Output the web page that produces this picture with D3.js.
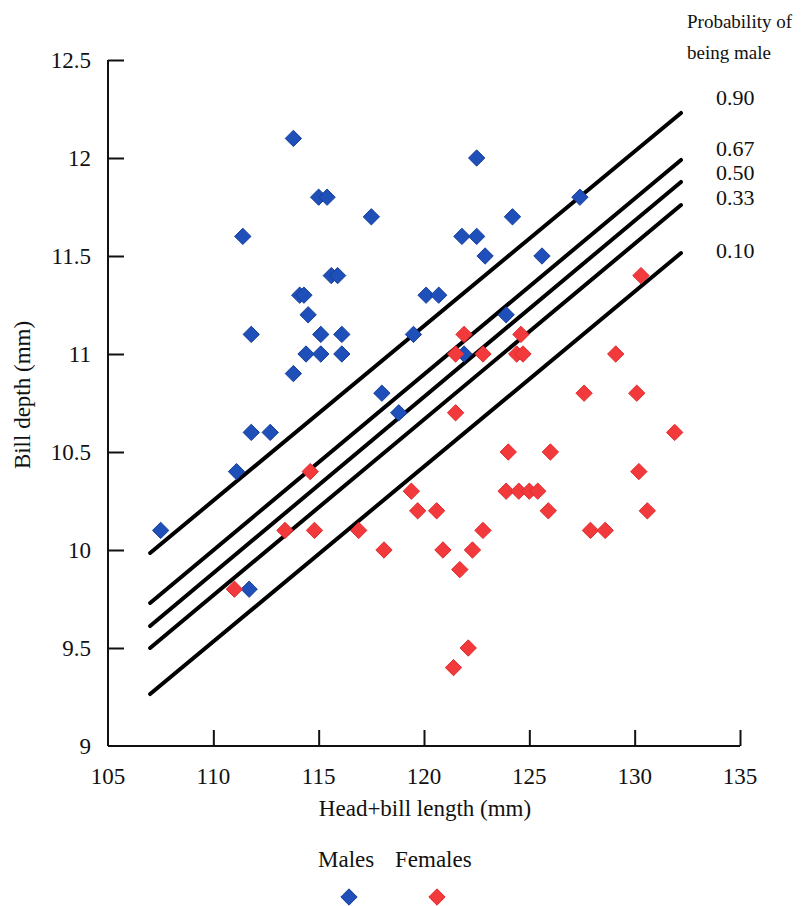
<!DOCTYPE html>
<html><head><meta charset="utf-8">
<script src="https://cdn.jsdelivr.net/npm/d3@7"></script>
<style>body{margin:0;background:#fff}svg{display:block}
svg text{font-family:'Liberation Serif','Tinos','Times New Roman','Nimbus Roman','Nimbus Roman No9 L','DejaVu Serif','Noto Serif',Times,serif !important;}</style>
</head><body>
<script>
const maleX = [107.5,111.1,111.4,111.8,111.8,111.7,112.7,113.8,113.8,114.1,114.3,114.5,114.4,115.1,115.1,115.0,115.4,115.6,115.9,116.1,116.1,117.5,118.0,118.8,119.5,120.1,120.7,121.8,122.5,121.9,122.5,122.9,123.9,124.2,125.6,127.4];
const maleY = [10.1,10.4,11.6,11.1,10.6,9.8,10.6,12.1,10.9,11.3,11.3,11.2,11.0,11.0,11.1,11.8,11.8,11.4,11.4,11.1,11.0,11.7,10.8,10.7,11.1,11.3,11.3,11.6,11.6,11.0,12.0,11.5,11.2,11.7,11.5,11.8];
const femaleX = [111.0,113.4,114.6,114.8,116.9,118.1,119.4,119.7,120.6,120.9,121.4,121.5,121.5,121.7,121.9,122.1,122.3,122.8,122.8,123.9,124.0,124.4,124.5,124.6,124.7,125.0,125.4,125.9,126.0,127.6,127.9,128.6,129.1,130.1,130.2,130.3,130.6,131.9];
const femaleY = [9.8,10.1,10.4,10.1,10.1,10.0,10.3,10.2,10.2,10.0,9.4,11.0,10.7,9.9,11.1,9.5,10.0,11.0,10.1,10.3,10.5,11.0,10.3,11.1,11.0,10.3,10.3,10.2,10.5,10.8,10.1,10.1,11.0,10.8,10.4,11.4,10.2,10.6];
const probLabels = ["0.90","0.67","0.50","0.33","0.10"];
const lineX = [107, 132.2];
const lineStartY = [9.985, 9.73, 9.612, 9.50, 9.265];
const lineEndY = [12.23, 11.99, 11.878, 11.76, 11.515];
const labelY = [12.31, 12.05, 11.93, 11.80, 11.53];
const xTicks = [105,110,115,120,125,130,135];
const yTicks = [9,9.5,10,10.5,11,11.5,12,12.5];
const seriesNames = ["Males","Females"];
const colors = {male:"#1f4fb8", maleStroke:"#163f9c", female:"#f23a3c", femaleStroke:"#e02a2e"};

const W=808,H=906;
const svg=d3.select("body").append("svg").attr("width",W).attr("height",H).attr("fill","#111");
const x=d3.scaleLinear().domain([105,135]).range([108,740]);
const y=d3.scaleLinear().domain([9,12.5]).range([746,60]);

// axes
const xa=svg.append("g").attr("transform","translate(0,"+y(9)+")")
  .call(d3.axisTop(x).tickValues(xTicks).tickSize(16).tickFormat(""));
const ya=svg.append("g").attr("transform","translate("+x(105)+",0)")
  .call(d3.axisRight(y).tickValues(yTicks).tickSize(16).tickFormat(""));
[xa,ya].forEach(a=>{a.selectAll("path,line").attr("stroke","#111").attr("stroke-width",2);});
xa.select(".domain").attr("d","M"+x(105)+",0H"+x(135));
ya.select(".domain").attr("d","M0,"+y(9)+"V"+y(12.5));
xa.selectAll(".tick").filter(d=>d===105).remove();
ya.selectAll(".tick").filter(d=>d===9).select("line").remove();

const txt=sel=>sel.attr("fill","#111");

svg.append("g").selectAll("text").data(xTicks).join("text").call(txt)
  .attr("x",d=>x(d)).attr("y",784).attr("text-anchor","middle")
  .attr("font-size",23).text(d=>d);
svg.append("g").selectAll("text").data(yTicks).join("text").call(txt)
  .attr("x",91).attr("y",d=>y(d)+8).attr("text-anchor","end")
  .attr("font-size",23).text(d=>d);

svg.append("text").call(txt).attr("x",425).attr("y",816).attr("text-anchor","middle")
  .attr("font-size",23).text("Head+bill length (mm)");
svg.append("text").call(txt).attr("transform","translate(30,395) rotate(-90)").attr("text-anchor","middle")
  .attr("font-size",23).text("Bill depth (mm)");

// probability lines
const lines=probLabels.map((p,i)=>({p,s:lineStartY[i],e:lineEndY[i],ly:labelY[i]}));
svg.append("g").selectAll("line").data(lines).join("line")
  .attr("x1",x(lineX[0])).attr("x2",x(lineX[1]))
  .attr("y1",d=>y(d.s)).attr("y2",d=>y(d.e))
  .attr("stroke","#000").attr("stroke-width",4).attr("stroke-linecap","round");

svg.append("g").selectAll("text").data(lines).join("text").call(txt)
  .attr("x",716).attr("y",d=>y(d.ly)+8).attr("font-size",22).text(d=>d.p);
svg.append("text").call(txt).attr("x",687).attr("y",28).attr("font-size",19).text("Probability of");
svg.append("text").call(txt).attr("x",687).attr("y",59).attr("font-size",19).text("being male");

// points
const diamond=d3.symbol().type(d3.symbolDiamond2).size(170);
const fem=femaleX.map((v,i)=>[v,femaleY[i]]);
const mal=maleX.map((v,i)=>[v,maleY[i]]);
svg.append("g").selectAll("path").data(mal).join("path")
  .attr("d",diamond).attr("transform",d=>"translate("+x(d[0])+","+y(d[1])+")")
  .attr("fill",colors.male).attr("stroke",colors.maleStroke).attr("stroke-width",1);
svg.append("g").selectAll("path").data(fem).join("path")
  .attr("d",diamond).attr("transform",d=>"translate("+x(d[0])+","+y(d[1])+")")
  .attr("fill",colors.female).attr("stroke",colors.femaleStroke).attr("stroke-width",1);

// legend
const leg=[{n:seriesNames[0],cx:349,c:colors.male,s:colors.maleStroke},{n:seriesNames[1],cx:437,c:colors.female,s:colors.femaleStroke}];
svg.append("text").call(txt).attr("x",318).attr("y",867).attr("font-size",23).text(seriesNames[0]);
svg.append("text").call(txt).attr("x",395).attr("y",867).attr("font-size",23).text(seriesNames[1]);
svg.append("g").selectAll("path").data(leg).join("path")
  .attr("d",diamond).attr("transform",d=>"translate("+d.cx+",897)")
  .attr("fill",d=>d.c).attr("stroke",d=>d.s);
</script>
</body></html>
